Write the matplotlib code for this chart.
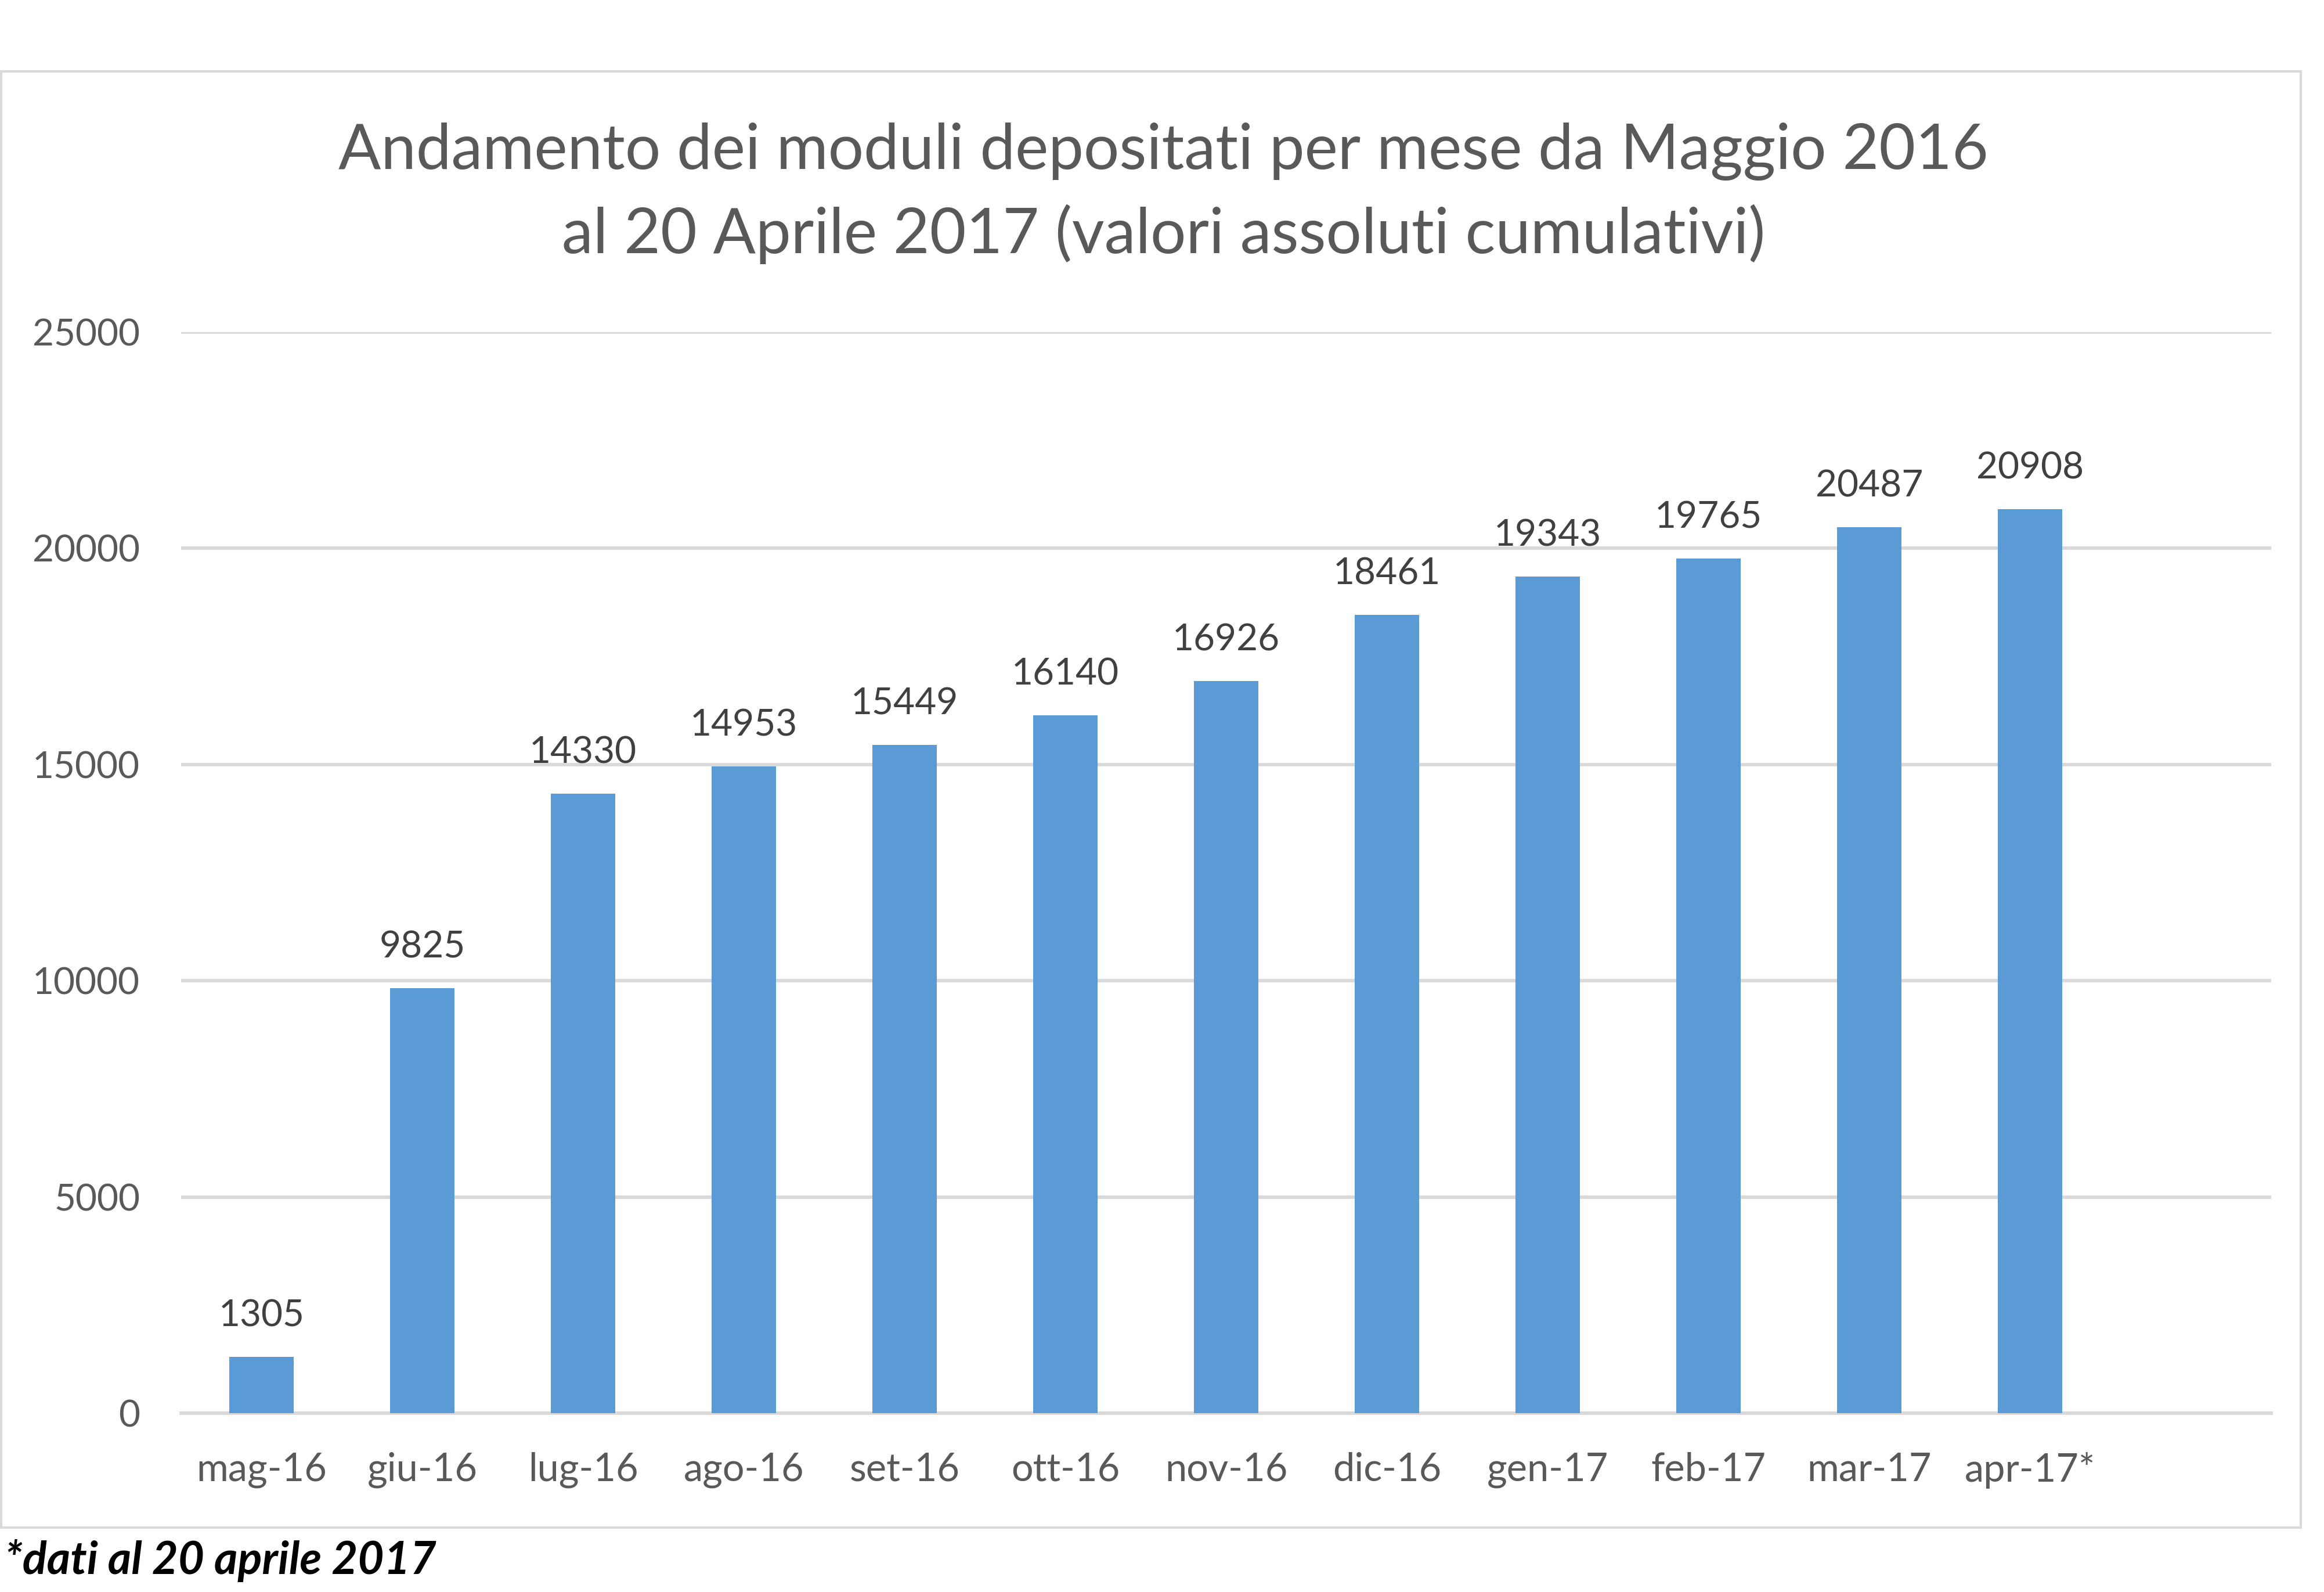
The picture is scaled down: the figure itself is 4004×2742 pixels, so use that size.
import matplotlib.pyplot as plt
from matplotlib.patches import Rectangle

months = ['mag-16', 'giu-16', 'lug-16', 'ago-16', 'set-16', 'ott-16',
          'nov-16', 'dic-16', 'gen-17', 'feb-17', 'mar-17', 'apr-17*']
moduli = [1305, 9825, 14330, 14953, 15449, 16140,
          16926, 18461, 19343, 19765, 20487, 20908]
y_ticks = [0, 5000, 10000, 15000, 20000, 25000]

title_lines = ['Andamento dei moduli depositati per mese da Maggio 2016',
               'al 20 Aprile 2017 (valori assoluti cumulativi)']
note = '*dati al 20 aprile 2017'

W, H = 4005, 2742
plt.rcParams['font.family'] = ['Lato', 'DejaVu Sans']

fig = plt.figure(figsize=(W / 100, H / 100), dpi=100)
fig.patch.set_facecolor('white')

# chart border
fig.add_artist(Rectangle((2 / W, 1 - 2631 / H), (3964 - 2) / W, (2631 - 123) / H,
                         transform=fig.transFigure, fill=False,
                         edgecolor='#D9D9D9', linewidth=3))

left, right, top, bottom = 312, 3913, 572, 2434
ax = fig.add_axes([left / W, 1 - bottom / H, (right - left) / W, (bottom - top) / H])

x = list(range(len(months)))
ax.bar(x, moduli, width=0.40, color='#5B9BD5', zorder=3)
for xi, v in zip(x, moduli):
    ax.annotate(str(v), (xi, v), xytext=(0, 30), textcoords='offset points',
                ha='center', va='bottom', fontsize=46, color='#404040')

ax.set_xlim(-0.5, len(months) + 0.5)
ax.set_ylim(0, 25000)
ax.set_yticks(y_ticks)
ax.set_yticklabels([str(t) for t in y_ticks])
ax.set_xticks(x)
ax.set_xticklabels(months)
ax.tick_params(axis='both', length=0, labelsize=46, colors='#595959')
ax.tick_params(axis='x', labelsize=48, pad=48)
ax.tick_params(axis='y', pad=51)
ax.grid(axis='y', color='#D9D9D9', linewidth=4.2, zorder=0)
for s in ['top', 'right', 'left']:
    ax.spines[s].set_visible(False)
ax.spines['bottom'].set_color('#D9D9D9')
ax.spines['bottom'].set_linewidth(4.2)

cx = 785 * 2.554 / W
for line, yc in zip(title_lines, [102, 158]):
    fig.text(cx, 1 - yc * 2.554 / H, line, ha='center', va='center',
             fontsize=78, color='#595959')

fig.text(8 / W, 1 - 2688 / H, note, ha='left', va='center', fontsize=56,
         fontweight='bold', fontstyle='italic', color='black')

fig.savefig('out.png', dpi=100)
